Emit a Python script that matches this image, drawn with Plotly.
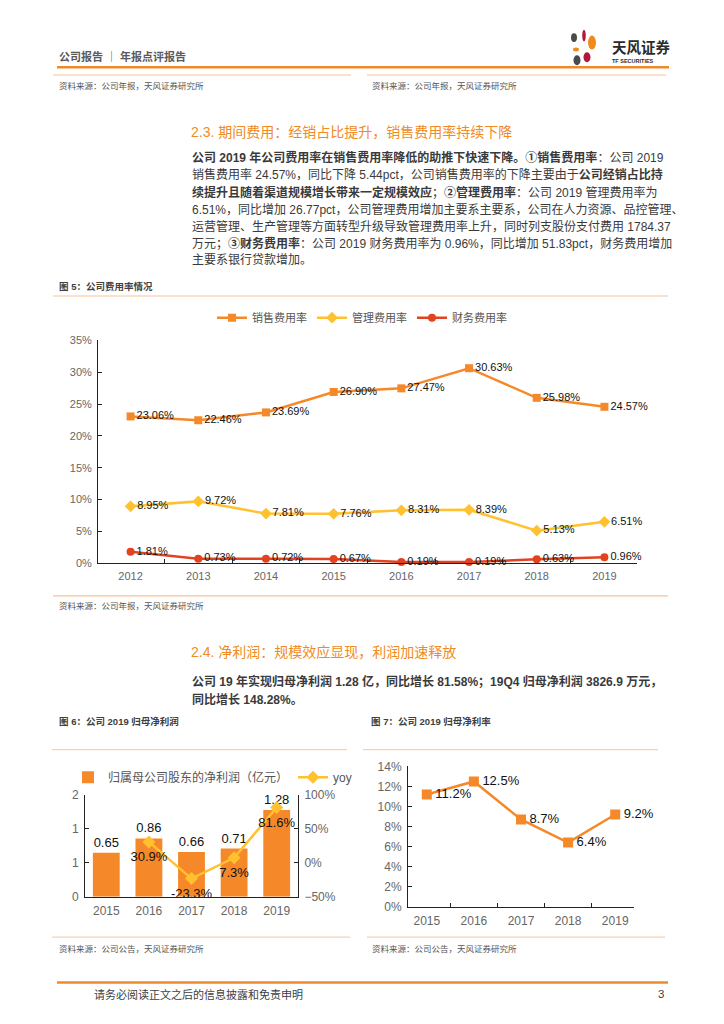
import plotly.graph_objects as go

W, H = 724, 1024
def X(px): return px / W
def Y(py): return 1 - py / H

# ---------------- data ----------------
years1 = ['2012', '2013', '2014', '2015', '2016', '2017', '2018', '2019']
sales_rate = [0.2306, 0.2246, 0.2369, 0.2690, 0.2747, 0.3063, 0.2598, 0.2457]
admin_rate = [0.0895, 0.0972, 0.0781, 0.0776, 0.0831, 0.0839, 0.0513, 0.0651]
fin_rate = [0.0181, 0.0073, 0.0072, 0.0067, 0.0019, 0.0019, 0.0063, 0.0096]

years2 = ['2015', '2016', '2017', '2018', '2019']
net_profit = [0.65, 0.86, 0.66, 0.71, 1.28]
yoy = [None, 0.309, -0.233, 0.073, 0.816]
profit_tickvals = [0, 0.5, 1, 1.5]
profit_ticktext = ['0', '1', '1', '2']

net_margin = [0.112, 0.125, 0.087, 0.064, 0.092]

# ---------------- styles ----------------
FONT = "Liberation Sans, Noto Sans CJK SC, sans-serif"
C_OR = '#F5892A'
C_YE = '#FFC12E'
C_RD = '#E2421F'
C_TITLE = '#F08A24'
C_THIN = '#F8C39A'
C_AX = '#222222'
C_TICK = '#666666'
C_LBL = '#111111'

fig = go.Figure()

# ---------------- chart 1 ----------------
for name, vals, col, sym, sz in [
    ('销售费用率', sales_rate, C_OR, 'square', 8),
    ('管理费用率', admin_rate, C_YE, 'diamond', 9),
    ('财务费用率', fin_rate, C_RD, 'circle', 8),
]:
    fig.add_trace(go.Scatter(
        x=years1, y=vals, name=name, mode='lines+markers',
        line=dict(color=col, width=2.5),
        marker=dict(symbol=sym, size=sz, color=col),
        xaxis='x', yaxis='y', legend='legend', cliponaxis=False, hoverinfo='skip'))
    fig.add_trace(go.Scatter(
        x=years1, y=vals, mode='markers+text', showlegend=False,
        marker=dict(size=sz, opacity=0),
        texttemplate='%{y:.2%}', textposition='middle right',
        textfont=dict(size=11, color=C_LBL, family=FONT),
        xaxis='x', yaxis='y', cliponaxis=False, hoverinfo='skip'))

# ---------------- chart 6 ----------------
fig.add_trace(go.Bar(
    x=years2, y=net_profit, name='归属母公司股东的净利润（亿元）',
    marker=dict(color=C_OR, line=dict(width=0)),
    texttemplate='%{y:.2f}', textposition='outside',
    textfont=dict(size=13, color=C_LBL, family=FONT),
    xaxis='x2', yaxis='y2', legend='legend2', cliponaxis=False, hoverinfo='skip'))
fig.add_trace(go.Scatter(
    x=years2, y=yoy, name='yoy', mode='lines+markers',
    line=dict(color=C_YE, width=2.5),
    marker=dict(symbol='diamond', size=10, color=C_YE),
    xaxis='x2', yaxis='y3', legend='legend2', cliponaxis=False, hoverinfo='skip'))
fig.add_trace(go.Scatter(
    x=years2, y=yoy, mode='markers+text', showlegend=False,
    marker=dict(size=14, opacity=0),
    texttemplate='%{y:.1%}', textposition='bottom center',
    textfont=dict(size=13, color=C_LBL, family=FONT),
    xaxis='x2', yaxis='y3', cliponaxis=False, hoverinfo='skip'))

# ---------------- chart 7 ----------------
fig.add_trace(go.Scatter(
    x=years2, y=net_margin, mode='lines+markers', showlegend=False,
    line=dict(color=C_OR, width=2.5),
    marker=dict(symbol='square', size=10, color=C_OR),
    xaxis='x3', yaxis='y4', cliponaxis=False, hoverinfo='skip'))
fig.add_trace(go.Scatter(
    x=years2, y=net_margin, mode='markers+text', showlegend=False,
    marker=dict(size=12, opacity=0),
    texttemplate='%{y:.1%}', textposition='middle right',
    textfont=dict(size=13, color=C_LBL, family=FONT),
    xaxis='x3', yaxis='y4', cliponaxis=False, hoverinfo='skip'))

common_x = dict(type='category', showline=True, linecolor=C_AX, linewidth=1,
                ticks='inside', tickson='boundaries', ticklen=4, tickcolor=C_AX,
                showgrid=False, zeroline=False, fixedrange=True, ticklabelstandoff=3)
common_y = dict(showline=True, linecolor=C_AX, linewidth=1, ticks='inside', ticklen=4,
                tickcolor=C_AX, showgrid=False, zeroline=False, fixedrange=True,
                ticklabelstandoff=3)

annotations = []
def txt(x, y, s, size, color='#404040', xanchor='left', bold=False):
    if bold:
        s = '<b>' + s + '</b>'
    annotations.append(dict(xref='paper', yref='paper', x=X(x), y=Y(y), text=s,
                            showarrow=False, xanchor=xanchor, yanchor='middle',
                            font=dict(size=size, color=color, family=FONT)))

# header
txt(57, 50, '公司报告 ｜ 年报点评报告', 11, '#5a5a5a', bold=True)
txt(610, 41, '天风证券', 14.5, '#2b2b2b', bold=True)
txt(610, 55, 'TF SECURITIES', 5.5, '#2b2b2b', bold=True)
txt(57, 80, '资料来源：公司年报，天风证券研究所', 8.5, '#555555')
txt(370, 80, '资料来源：公司年报，天风证券研究所', 8.5, '#555555')

# section 2.3
txt(189, 127, '2.3. 期间费用：经销占比提升，销售费用率持续下降', 14, C_TITLE)
para = [
    '<b>公司 2019 年公司费用率在销售费用率降低的助推下快速下降。①销售费用率</b>：公司 2019',
    '销售费用率 24.57%，同比下降 5.44pct，公司销售费用率的下降主要由于<b>公司经销占比持</b>',
    '<b>续提升且随着渠道规模增长带来一定规模效应</b>；<b>②管理费用率</b>：公司 2019 管理费用率为',
    '6.51%，同比增加 26.77pct，公司管理费用增加主要系主要系，公司在人力资源、品控管理、',
    '运营管理、生产管理等方面转型升级导致管理费用率上升，同时列支股份支付费用 1784.37',
    '万元；<b>③财务费用率</b>：公司 2019 财务费用率为 0.96%，同比增加 51.83pct，财务费用增加',
    '主要系银行贷款增加。',
]
for i, line in enumerate(para):
    txt(190, 153 + i * 17.3, line, 12, '#3a3a3a')

txt(57, 283, '图 5：公司费用率情况', 9.5, '#404040', bold=True)
txt(57, 607, '资料来源：公司年报，天风证券研究所', 8.5, '#555555')

# section 2.4
txt(189, 654, '2.4. 净利润：规模效应显现，利润加速释放', 14, C_TITLE)
txt(190, 684, '公司 19 年实现归母净利润 1.28 亿，同比增长 81.58%；19Q4 归母净利润 3826.9 万元，', 12, '#3a3a3a', bold=True)
txt(190, 702, '同比增长 148.28%。', 12, '#3a3a3a', bold=True)

txt(57, 724, '图 6：公司 2019 归母净利润', 9.5, '#404040', bold=True)
txt(369, 724, '图 7：公司 2019 归母净利率', 9.5, '#404040', bold=True)
txt(57, 955, '资料来源：公司公告，天风证券研究所', 8.5, '#555555')
txt(370, 955, '资料来源：公司公告，天风证券研究所', 8.5, '#555555')

# footer
txt(92, 1001, '请务必阅读正文之后的信息披露和免责申明', 11, '#404040')
txt(666, 1001, '3', 11.5, '#404040', xanchor='right')

shapes = []
def hline(x0, x1, y, color, width):
    shapes.append(dict(type='line', xref='paper', yref='paper', x0=X(x0), x1=X(x1),
                       y0=Y(y), y1=Y(y), line=dict(color=color, width=width)))

hline(57, 669, 61, '#EE8A2E', 2.5)
hline(53, 351, 69, C_THIN, 1)
hline(367, 666, 69, C_THIN, 1)
hline(53, 668, 293, C_THIN, 1.2)
hline(53, 668, 597, C_THIN, 1.2)
hline(52, 347, 753, C_THIN, 1)
hline(363, 658, 753, C_THIN, 1)
hline(52, 350, 943, C_THIN, 1)
hline(367, 665, 943, C_THIN, 1)
hline(57, 668, 989, '#EE8A2E', 2.5)

# logo petals (decoration)
def ell(cx, cy, rx, ry, color):
    shapes.append(dict(type='circle', xref='paper', yref='paper',
                       x0=X(cx - rx), x1=X(cx + rx), y0=Y(cy + ry), y1=Y(cy - ry),
                       fillcolor=color, line=dict(width=0)))
ell(574, 31, 3, 4.5, '#4A4A4A')
ell(584, 29, 1.8, 6, '#B3173C')
ell(592, 36, 4, 7, '#F08A1C')
ell(576, 43, 3, 2, '#F08A1C')
ell(587, 51, 3.5, 5, '#B3173C')
ell(577, 54, 3.5, 5, '#4A4A4A')

fig.update_layout(
    width=W, height=H, margin=dict(l=0, r=0, t=0, b=0),
    paper_bgcolor='white', plot_bgcolor='white',
    font=dict(family=FONT, size=11, color=C_TICK),
    bargap=0.37,
    annotations=annotations, shapes=shapes,
    legend=dict(orientation='h', x=X(362), y=Y(315), xanchor='center', yanchor='middle',
                font=dict(size=11, color='#555555', family=FONT), bgcolor='rgba(0,0,0,0)',
                itemclick=False, itemdoubleclick=False),
    legend2=dict(orientation='h', x=X(68), y=Y(781), xanchor='left', yanchor='middle',
                 font=dict(size=12, color='#555555', family=FONT), bgcolor='rgba(0,0,0,0)',
                 itemclick=False, itemdoubleclick=False),
    xaxis=dict(domain=[X(98), X(637)], anchor='y', tickfont=dict(size=11, color=C_TICK), **common_x),
    yaxis=dict(domain=[Y(564), Y(338)], anchor='x', range=[0, 0.35], dtick=0.05,
               tickformat='.0%', tickfont=dict(size=11, color=C_TICK), **common_y),
    xaxis2=dict(domain=[X(85), X(298)], anchor='y2', tickfont=dict(size=12, color=C_TICK),
                **{**common_x, 'ticks': ''}),
    yaxis2=dict(domain=[Y(902), Y(799)], anchor='x2', range=[0, 1.5],
                tickvals=profit_tickvals, ticktext=profit_ticktext,
                tickfont=dict(size=12, color=C_TICK), **common_y),
    yaxis3=dict(overlaying='y2', side='right', anchor='x2', range=[-0.5, 1.0], dtick=0.5,
                tickformat='.0%', tickfont=dict(size=12, color=C_TICK), **common_y),
    xaxis3=dict(domain=[X(408), X(634)], anchor='y4', tickfont=dict(size=12, color=C_TICK), **common_x),
    yaxis4=dict(domain=[Y(912), Y(770)], anchor='x3', range=[0, 0.14], dtick=0.02,
                tickformat='.0%', tickfont=dict(size=12, color=C_TICK), **common_y),
)

fig.write_html('out.html', config={'displayModeBar': False},
               post_script="document.body.style.margin='0';")
